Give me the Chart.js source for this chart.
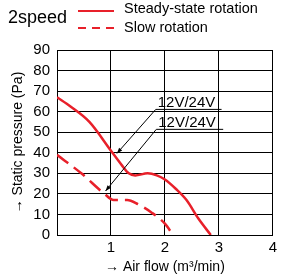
<!DOCTYPE html>
<html>
<head>
<meta charset="utf-8">
<script src="https://cdn.jsdelivr.net/npm/chart.js@4/dist/chart.umd.min.js"></script>
<style>
html, body { margin: 0; padding: 0; background: #fff; }
</style>
</head>
<body>
<canvas id="fanChart" width="281" height="280"></canvas>
<script>
'use strict';

/*---- data ----*/
var steadyFlow = [0, 0.25, 0.6, 1.0, 1.2, 1.33, 1.45, 1.68, 1.85, 2.0, 2.2, 2.4, 2.62, 2.85];
var steadyPressure = [67, 62.5, 55, 41, 34, 30, 29, 30, 29, 27, 22.5, 17, 8, 0];
var slowFlow = [0, 0.45, 0.88, 1.05, 1.3, 1.5, 1.75, 2.0, 2.15];
var slowPressure = [39, 30, 20, 17, 17, 15, 11, 5.5, 0];
var seriesLabels = ['Steady-state rotation', 'Slow rotation'];
var xTicks = [0, 1, 2, 3, 4];
var yTicks = [0, 10, 20, 30, 40, 50, 60, 70, 80, 90];

/* voltage notes: text, underline start/end (data units), arrow tip (data units) */
var noteText = ['12V/24V', '12V/24V'];
var noteLineX = [[1.83, 3.05], [1.84, 3.08]];
var noteLineY = [61.1, 51.4];
var noteTip = [[1.11, 39.7], [0.9, 21.4]];

var red = '#e8202a';

function toPoints(xs, ys) {
	return xs.map(function(x, i) { return { x: x, y: ys[i] }; });
}

var font = 'Liberation Sans, Arial, sans-serif';

var notesPlugin = {
	id: 'notes',
	afterDatasetsDraw: function(chart) {
		var ctx = chart.ctx;
		var xs = chart.scales.x, ys = chart.scales.y;
		ctx.save();
		ctx.strokeStyle = '#000';
		ctx.fillStyle = '#000';
		ctx.lineWidth = 1;
		ctx.font = '15px ' + font;
		ctx.textBaseline = 'alphabetic';
		for (var i = 0; i < noteText.length; i++) {
			var x0 = xs.getPixelForValue(noteLineX[i][0]);
			var x1 = xs.getPixelForValue(noteLineX[i][1]);
			var y0 = ys.getPixelForValue(noteLineY[i]);
			var tx = xs.getPixelForValue(noteTip[i][0]);
			var ty = ys.getPixelForValue(noteTip[i][1]);
			ctx.fillText(noteText[i], x0 + 2, y0 - 2);
			ctx.beginPath();
			ctx.moveTo(x1, y0);
			ctx.lineTo(x0, y0);
			ctx.lineTo(tx, ty);
			ctx.stroke();
			// arrow head
			var a = Math.atan2(ty - y0, tx - x0);
			ctx.beginPath();
			ctx.moveTo(tx, ty);
			ctx.lineTo(tx - 6 * Math.cos(a - 0.35), ty - 6 * Math.sin(a - 0.35));
			ctx.lineTo(tx - 6 * Math.cos(a + 0.35), ty - 6 * Math.sin(a + 0.35));
			ctx.closePath();
			ctx.fill();
		}
		ctx.restore();
	},
	afterDraw: function(chart) {
		var ctx = chart.ctx;
		ctx.save();
		ctx.fillStyle = '#000';
		ctx.textBaseline = 'middle';
		ctx.font = '18px ' + font;
		ctx.fillText('2speed', 8, 18);
		ctx.font = '14.5px ' + font;
		ctx.fillText(seriesLabels[0], 124, 9);
		ctx.fillText(seriesLabels[1], 124, 28);
		ctx.strokeStyle = red;
		ctx.lineWidth = 2;
		ctx.beginPath();
		ctx.moveTo(78, 11);
		ctx.lineTo(114, 11);
		ctx.stroke();
		ctx.setLineDash([8, 6]);
		ctx.beginPath();
		ctx.moveTo(78, 28);
		ctx.lineTo(114, 28);
		ctx.stroke();
		ctx.restore();
	}
};

var ctx = document.getElementById('fanChart').getContext('2d');
var fanChart = new Chart(ctx, {
	type: 'line',
	data: {
		datasets: [{
			label: seriesLabels[0],
			data: toPoints(steadyFlow, steadyPressure),
			borderColor: red,
			borderWidth: 2.5,
			pointRadius: 0,
			cubicInterpolationMode: 'monotone',
			fill: false
		}, {
			label: seriesLabels[1],
			data: toPoints(slowFlow, slowPressure),
			borderColor: red,
			borderWidth: 2.5,
			borderDash: [14, 7],
			pointRadius: 0,
			cubicInterpolationMode: 'monotone',
			fill: false
		}]
	},
	options: {
		responsive: false,
		animation: false,
		layout: { padding: { top: 50, right: 6, left: 0, bottom: 0 } },
		plugins: {
			legend: { display: false },
			tooltip: { enabled: false }
		},
		scales: {
			x: {
				type: 'linear',
				min: xTicks[0],
				max: xTicks[xTicks.length - 1],
				afterBuildTicks: function(scale) {
					scale.ticks = xTicks.map(function(v) { return { value: v }; });
				},
				afterFit: function(scale) { scale.height = 45; },
				grid: { color: '#000', lineWidth: 1, drawTicks: false },
				border: { color: '#000', width: 1 },
				ticks: {
					color: '#000',
					font: { family: font, size: 15 },
					padding: 4,
					autoSkip: false,
					maxRotation: 0,
					callback: function(v) { return v === 0 ? '' : v; }
				},
				title: {
					display: true,
					text: '\u2192 Air flow (m\u00b3/min)',
					color: '#000',
					font: { family: font, size: 14 },
					padding: { top: 0, bottom: 4 }
				}
			},
			y: {
				type: 'linear',
				min: yTicks[0],
				max: yTicks[yTicks.length - 1],
				afterBuildTicks: function(scale) {
					scale.ticks = yTicks.map(function(v) { return { value: v }; });
				},
				afterFit: function(scale) { scale.width = 57; },
				grid: { color: '#000', lineWidth: 1, drawTicks: false },
				border: { color: '#000', width: 1 },
				ticks: {
					color: '#000',
					font: { family: font, size: 15 },
					padding: 7,
					autoSkip: false
				},
				title: {
					display: true,
					text: '\u2192 Static pressure (Pa)',
					color: '#000',
					font: { family: font, size: 14 },
					padding: { top: 10, bottom: 0 }
				}
			}
		}
	},
	plugins: [notesPlugin]
});
</script>
</body>
</html>
